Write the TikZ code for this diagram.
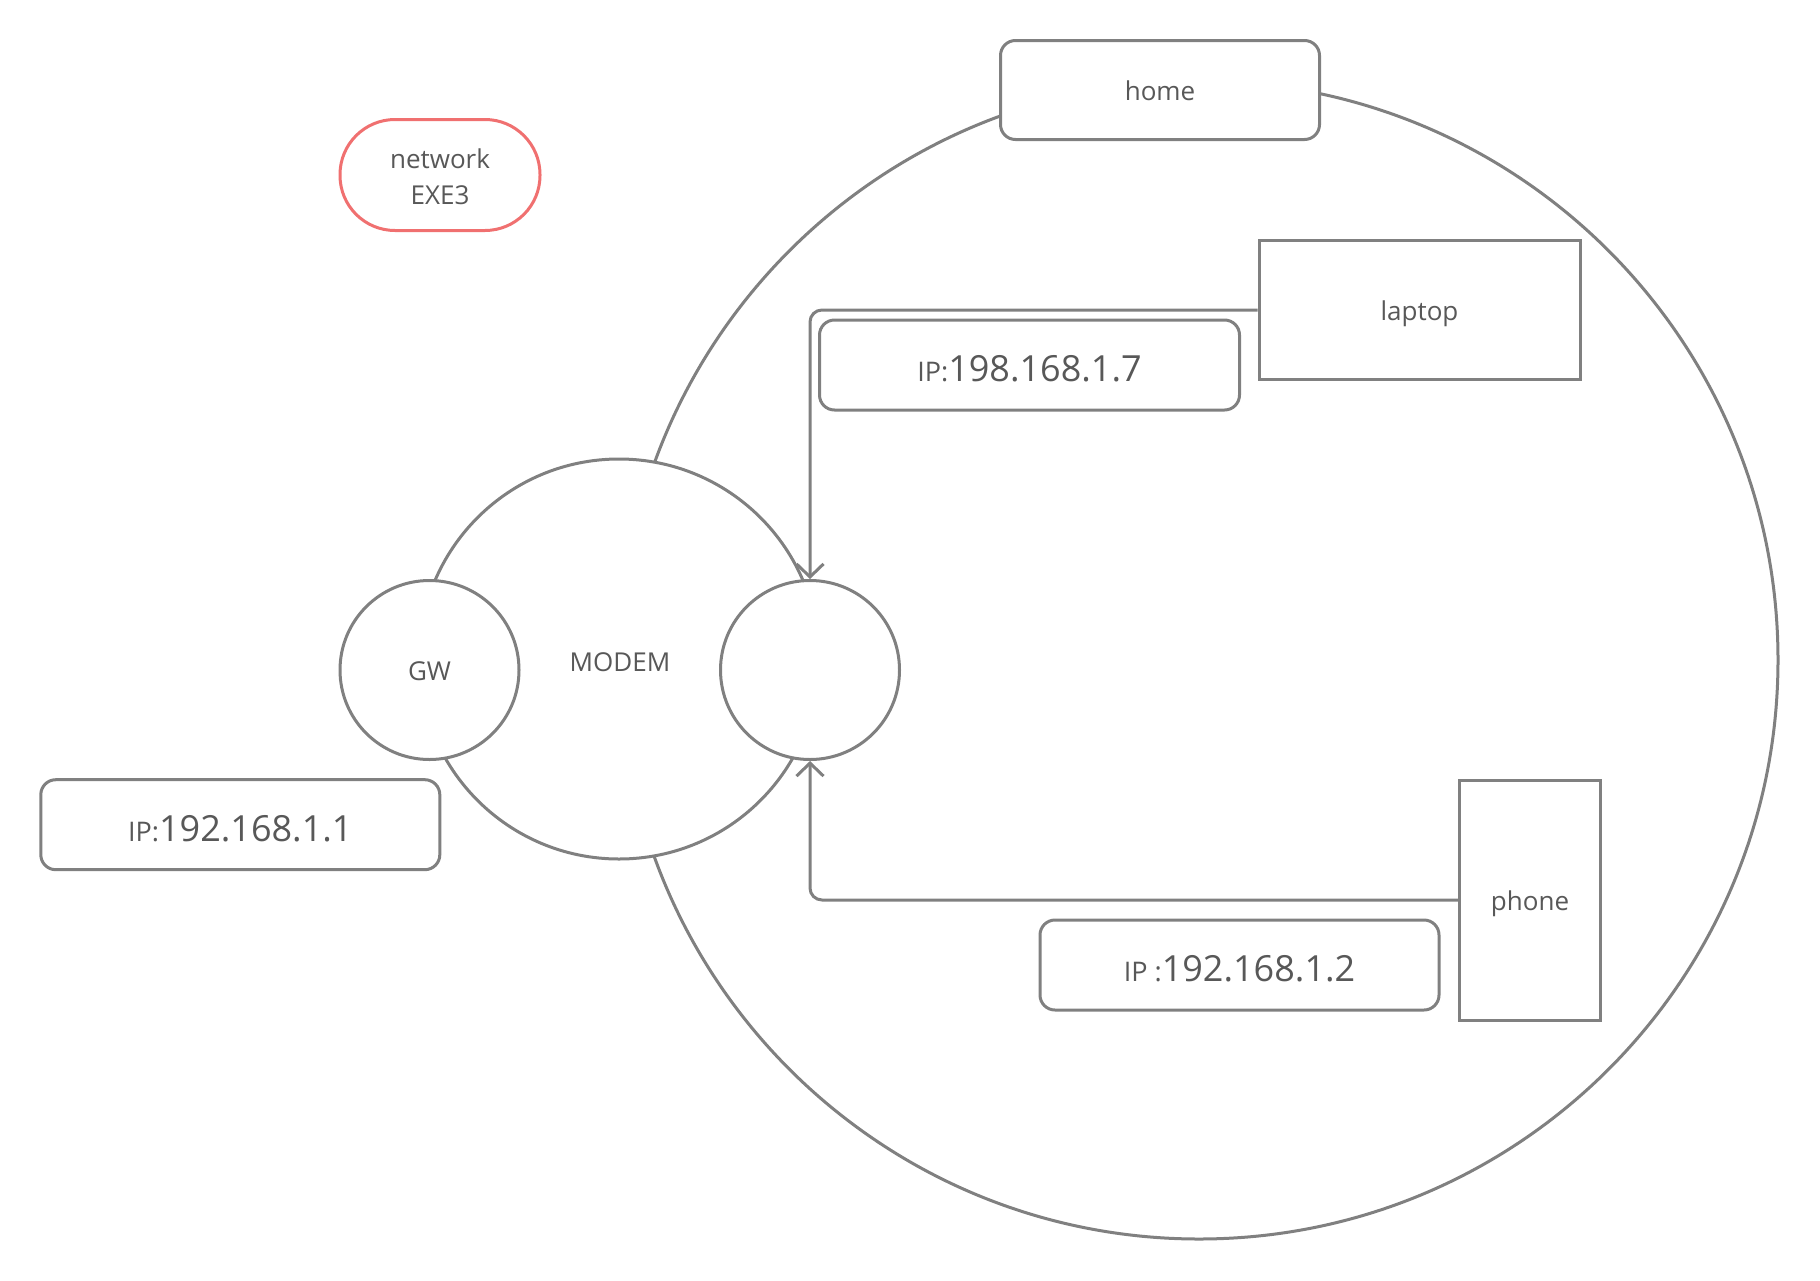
\documentclass[tikz,border=0pt]{standalone}
\usepackage{fontspec}
\setmainfont{Open Sans}
\usetikzlibrary{arrows.meta}
\definecolor{edge}{RGB}{128,128,128}
\definecolor{ink}{RGB}{88,88,88}
\definecolor{pill}{RGB}{240,112,112}
\newcommand{\lbl}{\fontsize{26}{36}\selectfont}
\newcommand{\ipsmall}{\fontsize{27}{30}\selectfont}
\newcommand{\ipbig}{\fontsize{36}{40}\selectfont}
\begin{document}
\begin{tikzpicture}[x=1pt,y=-1pt,
  every node/.style={text=ink, font=\lbl},
  txt/.style={text height=21.6pt, text depth=0pt},
  iptxt/.style={text height=33.4pt, text depth=0pt},
  outline/.style={draw=edge, line width=3pt, fill=white},
  disc/.style={outline, circle, inner sep=0pt},
  roundbox/.style={outline, rectangle, rounded corners=15pt, inner sep=0pt},
  plainbox/.style={outline, rectangle, inner sep=0pt},
  conn/.style={draw=edge, line width=3pt, rounded corners=12pt,
    -{Straight Barb[length=13pt,width=27pt,line width=3pt]}}]
\useasboundingbox (0,0) rectangle (1820,1280);
\fill[white] (0,0) rectangle (1820,1280);

% home network area and its title
\node[disc, minimum size=1158pt] (area) at (1199,660) {};
\node[roundbox, txt, minimum width=319pt, minimum height=99pt] (home) at (1160,90) {home};

% modem with its two interfaces
\node[disc, minimum size=400pt] (modem) at (619,659) {};
\node[txt] (modemname) at (620,661) {MODEM};
\node[disc, txt, minimum size=179pt] (gw) at (429.5,670) {GW};
\node[disc, minimum size=179pt] (lan) at (810,670) {};

% devices
\node[plainbox, txt, minimum width=321pt, minimum height=139pt] (laptop) at (1419.5,310) {laptop};
\node[plainbox, txt, minimum width=141pt, minimum height=240pt] (phone) at (1530,900) {phone};

% addresses
\node[roundbox, iptxt, minimum width=420pt, minimum height=90pt] (iplaptop) at (1029.5,365)
  {{\ipsmall IP:}{\ipbig 198.168.1.7}};
\node[roundbox, iptxt, minimum width=399pt, minimum height=90pt] (ipgw) at (240.3,824.7)
  {{\ipsmall IP:}{\ipbig 192.168.1.1}};
\node[roundbox, iptxt, minimum width=399pt, minimum height=90pt] (ipphone) at (1239.5,965)
  {{\ipsmall IP :}{\ipbig 192.168.1.2}};

% label
\node[draw=pill, line width=3pt, fill=white, rectangle, rounded corners=55pt,
  minimum width=200pt, minimum height=111pt, inner sep=0pt,
  text height=0pt, text depth=14pt] (net) at (440,175)
  {\begin{tabular}[t]{@{}c@{}}network\\EXE3\end{tabular}};

% links
\draw[conn] (laptop.west) -| (lan.north);
\draw[conn] (phone.west) -| (lan.south);
\end{tikzpicture}
\end{document}
